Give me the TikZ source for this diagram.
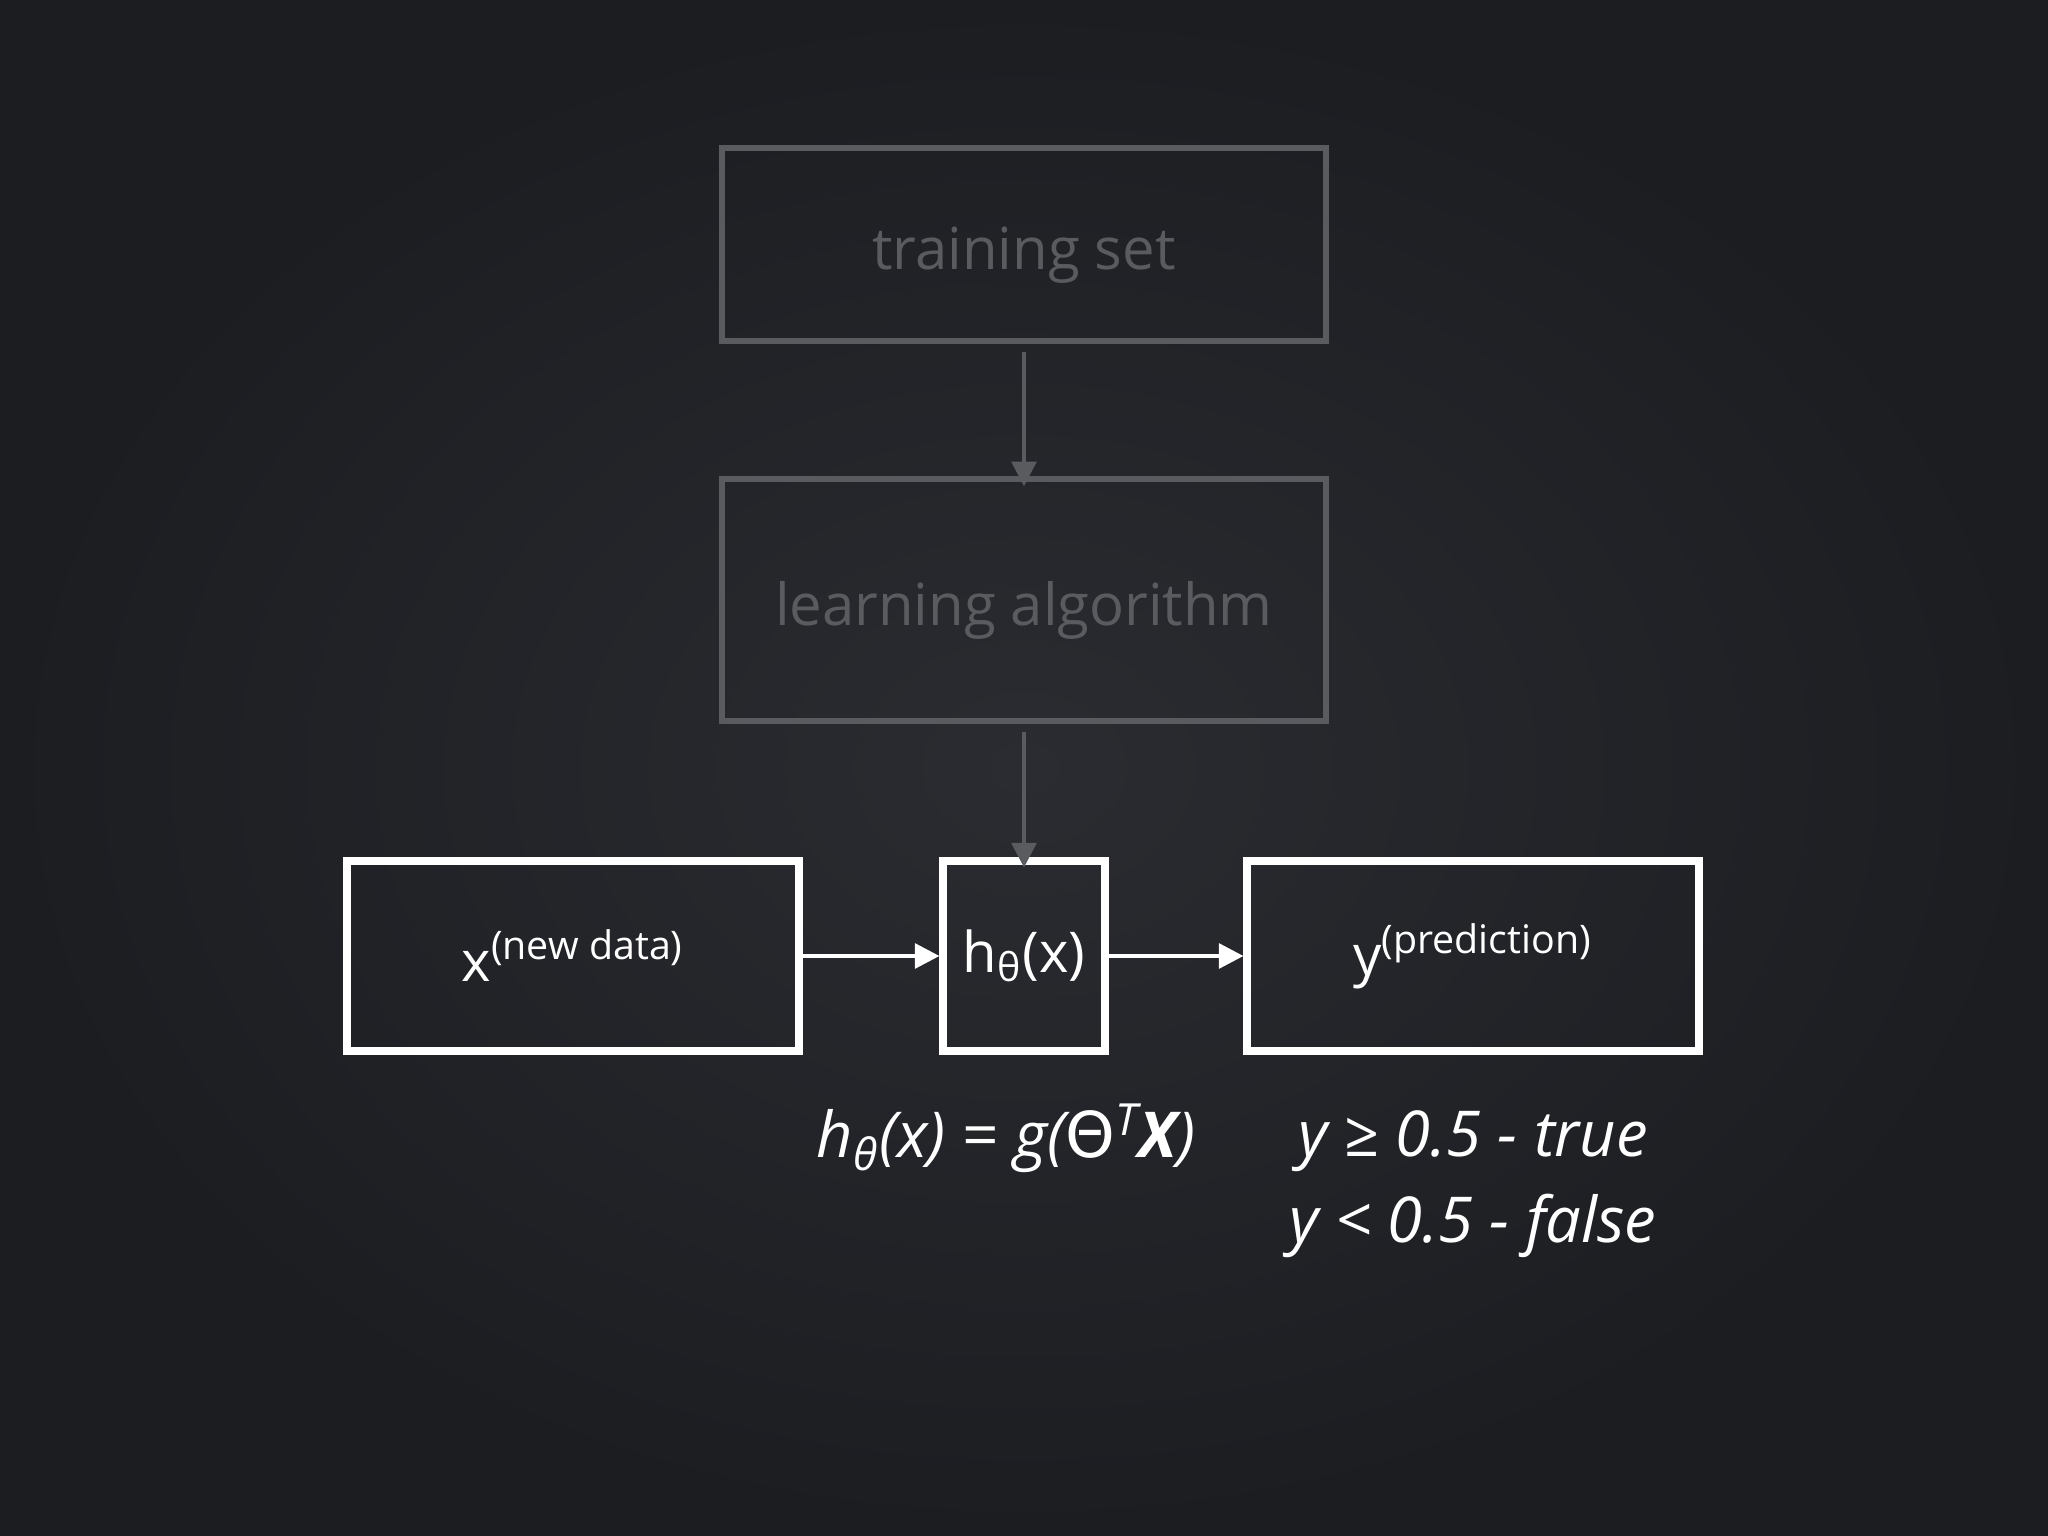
\documentclass[tikz,border=0pt]{standalone}
\usepackage{fontspec}
\setmainfont{Open Sans}
\newfontfamily\dejavu{DejaVu Sans}
\usetikzlibrary{arrows.meta}
\definecolor{bgc}{HTML}{1C1D21}
\definecolor{bgl}{HTML}{2A2C31}
\definecolor{dim}{HTML}{5A5B5F}
\tikzset{
 dimbox/.style={draw=dim,line width=1.6pt,minimum width=6.04cm,text=dim,font=\fontsize{16.5}{20}\selectfont},
 wbox/.style={draw=white,line width=2pt,minimum height=1.9cm,text=white,font=\fontsize{16}{20}\selectfont},
 dimarr/.style={draw=dim,line width=1.2pt,-{Triangle[length=7pt,width=7pt]}},
 warr/.style={draw=white,line width=1.2pt,-{Triangle[length=7pt,width=7pt]}},
 ftext/.style={text=white,font=\itshape\fontsize{18}{24.5}\selectfont,align=center}
}
\begin{document}
\begin{tikzpicture}[x=1cm,y=1cm]
\useasboundingbox (0,0) rectangle (20.48,-15.36);
\shade[inner color=bgl,outer color=bgc] (0,0) rectangle (20.48,-15.36);
\node[dimbox,minimum height=1.93cm] (ts) at (10.24,-2.445) {};
\node[text=dim,font=\fontsize{16.5}{20}\selectfont] (tst) at (10.24,-2.55) {training set};
\node[dimbox,minimum height=2.42cm] (la) at (10.24,-6.0) {};
\node[text=dim,font=\fontsize{16.5}{20}\selectfont] (lat) at (10.24,-6.1) {learning algorithm};
\node[wbox,minimum width=4.52cm] (x) at (5.73,-9.56) {x\textsuperscript{(new data)}};
\node[wbox,minimum width=1.62cm,inner sep=1pt] (h) at (10.24,-9.56) {h\textsubscript{θ}(x)};
\node[wbox,minimum width=4.52cm] (y) at (14.73,-9.56) {y\textsuperscript{(prediction)}};
\draw[dimarr] (ts.south) ++(0,-0.08) -- ([yshift=-0.1cm]la.north);
\draw[dimarr] (la.south) ++(0,-0.08) -- ([yshift=-0.1cm]h.north);
\draw[warr] (x.east) -- (h.west);
\draw[warr] (h.east) -- (y.west);
\node[ftext] (f) at (10.06,-11.38) {h\textsubscript{θ}(x) = g({\upshape\dejavu Θ}\textsuperscript{T}\textbf{X})};
\node[ftext] (c) at (14.73,-11.84) {y ≥ 0.5 - true\\ y < 0.5 - false};
\end{tikzpicture}
\end{document}
